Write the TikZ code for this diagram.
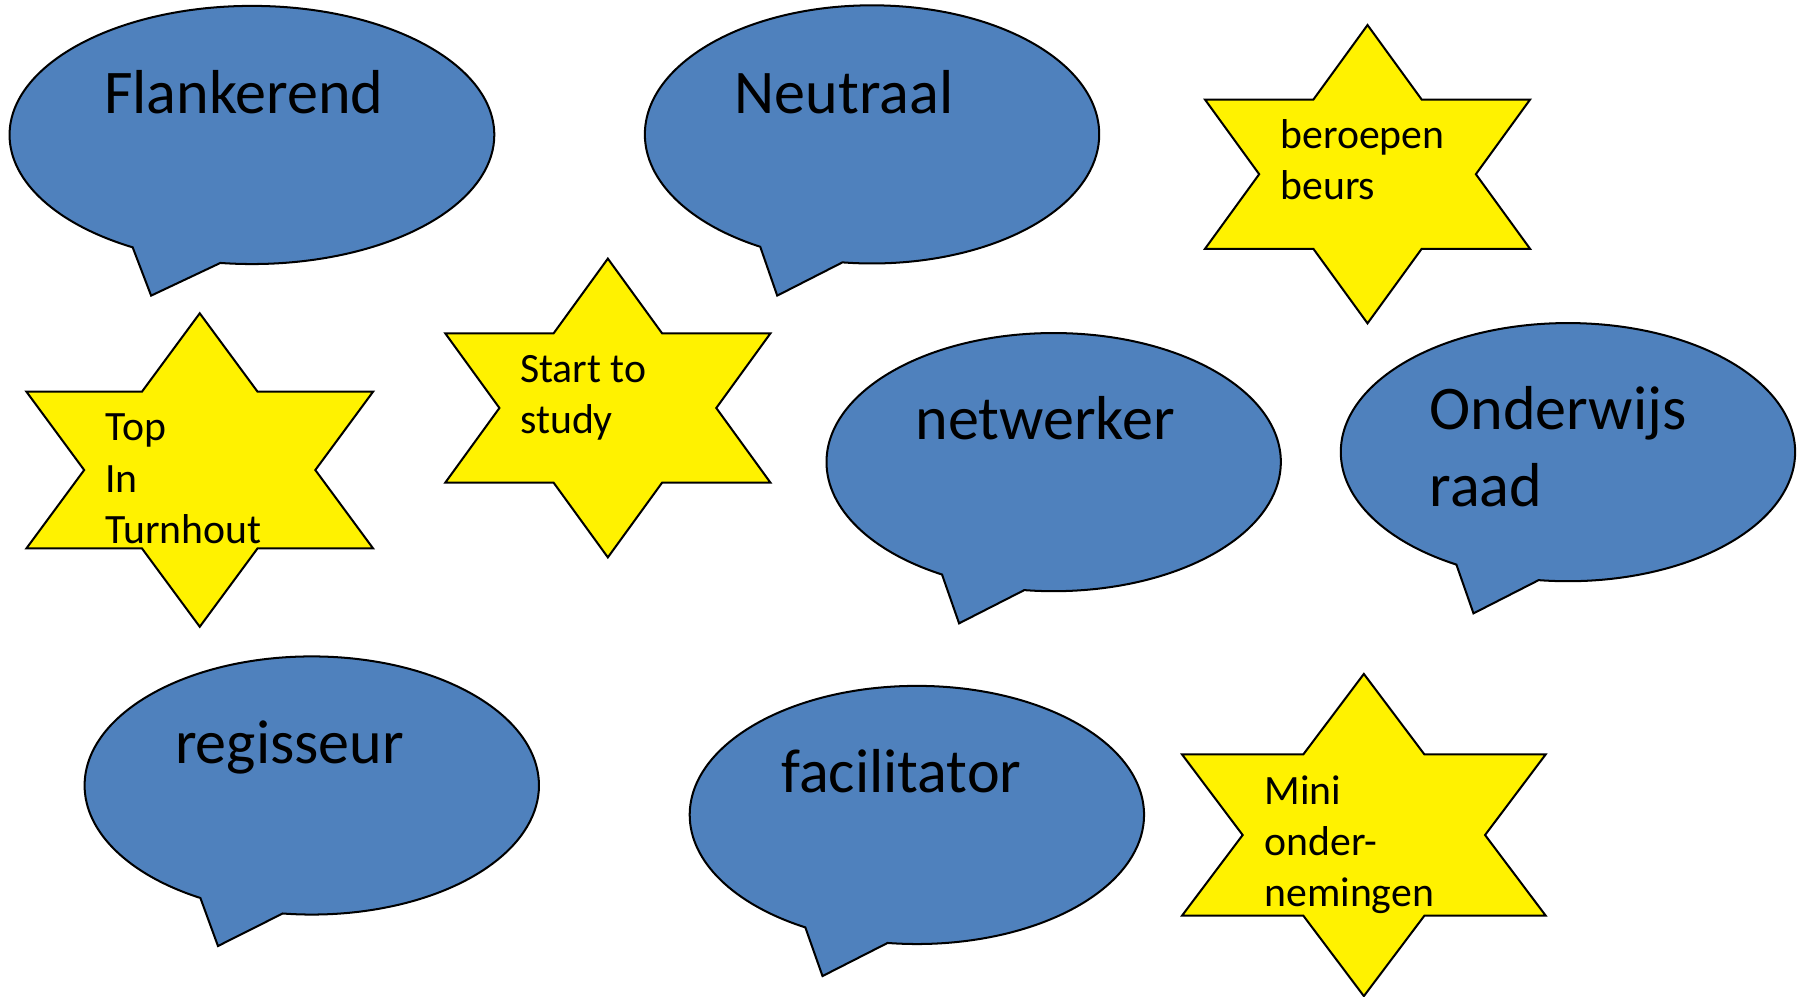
\documentclass[tikz,border=0pt]{standalone}
\usepackage{fontspec}
\setmainfont{Carlito}
\usetikzlibrary{shapes.geometric,shapes.callouts}
\definecolor{bubbleblue}{HTML}{4F81BD}

\begin{document}
\begin{tikzpicture}[x=0.01cm, y=-0.01cm,
    bubble/.style={ellipse callout, draw=black, fill=bubbleblue, line width=0.5pt,
      inner sep=0pt, minimum width=3.96cm, minimum height=2.25cm, callout pointer arc=22},
    sticker/.style={star, star points=6, star point ratio=1.732, draw=black,
      fill=yellow, line width=0.5pt, inner sep=0pt},
    bigtext/.style={font=\fontsize{15.4}{19.2}\selectfont, align=left, inner sep=0pt, anchor=base west},
    smalltext/.style={font=\fontsize{10.35}{12.7}\selectfont, align=left, inner sep=0pt, anchor=base west}]
        \useasboundingbox (0,0) rectangle (1568,869);

        % Tips of the bubbles
        \coordinate (FlankTip) at (131.8,257.8);
        \coordinate (NeutraalTip) at (677.8,257.8);
        \coordinate (NetwerkerTip) at (836.4,543.6);
        \coordinate (OnderwijsTip) at (1285,534.9);
        \coordinate (RegisseurTip) at (190.1,825);
        \coordinate (FacilTip) at (717.3,851.2);

        % Speech bubbles
        \node[bubble, minimum width=4.225cm, callout absolute pointer={(FlankTip)}] (Flank) at (219.7,117.7) {};
        \node[bubble, callout absolute pointer={(NeutraalTip)}] (Neutraal) at (760.5,117.2) {};
        \node[bubble, callout absolute pointer={(NetwerkerTip)}] (Netwerker) at (918.9,403) {};
        \node[bubble, callout absolute pointer={(OnderwijsTip)}] (Onderwijs) at (1367.4,394.3) {};
        \node[bubble, callout absolute pointer={(RegisseurTip)}] (Regisseur) at (271.9,685) {};
        \node[bubble, callout absolute pointer={(FacilTip)}] (Facil) at (799.6,710.7) {};

        % Stars
        \node[sticker, minimum size=2.6cm, xscale=1.258] (Beurs) at (1192.6,151.9) {};
        \node[sticker, minimum size=2.732cm, xscale=1.277] (Top) at (174.2,409.9) {};
        \node[sticker, minimum size=2.604cm, xscale=1.257] (Study) at (530.1,355.8) {};
        \node[sticker, minimum size=2.808cm, xscale=1.303] (Mini) at (1189.4,728.2) {};

        % Texts (anchored at the baseline of the last line)
        \node[bigtext] (FlankText) at (90,98.8) {Flankerend};
        \node[bigtext] (NeutraalText) at (640,98.8) {Neutraal};
        \node[bigtext] (NetwerkerText) at (797.6,383.7) {netwerker};
        \node[bigtext] (OnderwijsText) at (1246,441.9) {Onderwijs\\raad};
        \node[bigtext] (RegisseurText) at (152,665.7) {regisseur};
        \node[bigtext] (FacilText) at (680.6,691.3) {facilitator};
        \node[smalltext] (BeursText) at (1116,174.4) {beroepen\\beurs};
        \node[smalltext] (TopText) at (91.2,473.8) {Top\\In\\Turnhout};
        \node[smalltext] (StudyText) at (453,377.9) {Start to\\study};
        \node[smalltext] (MiniText) at (1102,790.7) {Mini\\onder-\\nemingen};

\end{tikzpicture}
\end{document}
